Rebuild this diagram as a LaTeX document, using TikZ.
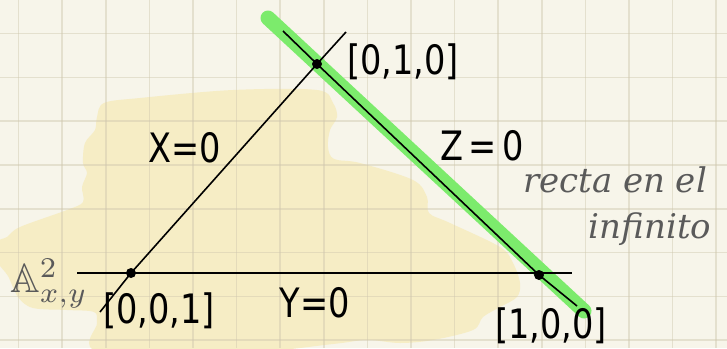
\documentclass[tikz,border=0pt]{standalone}
\usepackage{amssymb}
\usepackage{fontspec}
\setmainfont{DejaVu Sans}
\newfontfamily\handfont{DejaVu Serif}
\definecolor{paper}{HTML}{F7F5EA}
\definecolor{gridc}{HTML}{CFC7AE}
\definecolor{blob}{HTML}{F6EDC5}
\definecolor{hilite}{HTML}{7CEB6C}
\definecolor{greyink}{HTML}{5A5A5A}
\newcommand{\tallt}[1]{\scalebox{1.12}[1.35]{#1}}
\tikzset{
  ink/.style={line width=1.6pt, black},
  dotnode/.style={circle, fill=black, inner sep=0pt, minimum size=10pt},
  lbl/.style={font=\fontsize{30}{34}\selectfont, text=black, inner sep=0pt},
  note/.style={font=\handfont\itshape\fontsize{34}{38}\selectfont, text=greyink, inner sep=0pt}
}
\begin{document}
\begin{tikzpicture}[x=1pt,y=-1pt]
\useasboundingbox (0,0) rectangle (727,348);
\fill[paper] (0,0) rectangle (727,348);
\begin{scope}
\clip (0,0) rectangle (727,348);
\fill[blob] plot[smooth cycle, tension=0.55] coordinates {
 (97,117) (104,103) (140,98) (233,90) (317,90) (333,103) (337,117) (330,130)
 (328,147) (334,159) (360,163) (413,180) (427,197) (429,213) (450,223)
 (500,247) (513,263) (520,283) (517,297) (500,307) (483,317) (473,330)
 (433,340) (400,343) (367,340) (333,344) (250,352) (100,352) (97,323)
 (94,312) (67,310) (33,308) (18,297) (8,276) (-2,262) (-2,242) (7,237)
 (20,227) (67,210) (83,202) (82,187) (87,173) (83,163) (85,143) (95,130)};
\foreach \gx in {0,...,16} \draw[gridc, line width=1.6pt, opacity=0.45] ({18.5+43.6*\gx},0) -- ({18.5+43.6*\gx},348);
\foreach \gy in {0,...,7} \draw[gridc, line width=1.6pt, opacity=0.45] (0,{33.5+43.8*\gy}) -- (727,{33.5+43.8*\gy});
\end{scope}
% highlight of line at infinity
\coordinate (g1) at (268,18);
\coordinate (g2) at (584,311);
\draw[hilite, line width=15pt, line cap=round] (g1) -- (g2);
% points
\node[dotnode] (p010) at (317,64) {};
\node[dotnode] (p001) at (131,273) {};
\node[dotnode] (p100) at (539,275) {};
% line ends
\coordinate (a1) at (100,312);
\coordinate (a2) at (346,32);
\coordinate (b1) at (77,273);
\coordinate (b2) at (572,273);
\coordinate (c1) at (283,31);
\coordinate (c2) at (577,306);
\draw[ink] (a1) -- (p001.center) -- (p010.center) -- (a2);
\draw[ink] (b1) -- (b2);
\draw[ink] (c1) -- (p010.center) -- (p100.center) -- (c2);
% labels
\node[lbl] (l010) at (403,62) {\tallt{[0,1,0]}};
\node[lbl] (l001) at (159,311) {\tallt{[0,0,1]}};
\node[lbl] (l100) at (551,326) {\tallt{[1,0,0]}};
\node[lbl] (lx) at (185,148) {\tallt{X=0}};
\node[lbl] (lz) at (482,146) {\tallt{Z\,=\,0}};
\node[lbl] (ly) at (315,303) {\tallt{Y=0}};
\node[note, anchor=base] (n1) at (615,192) {recta en el};
\node[note, anchor=base] (n2) at (650,238) {infinito};
\node[text=greyink, inner sep=0pt] (aff) at (49,284) {\scalebox{4.1}{$\mathbb{A}^2_{x,y}$}};
\end{tikzpicture}
\end{document}
